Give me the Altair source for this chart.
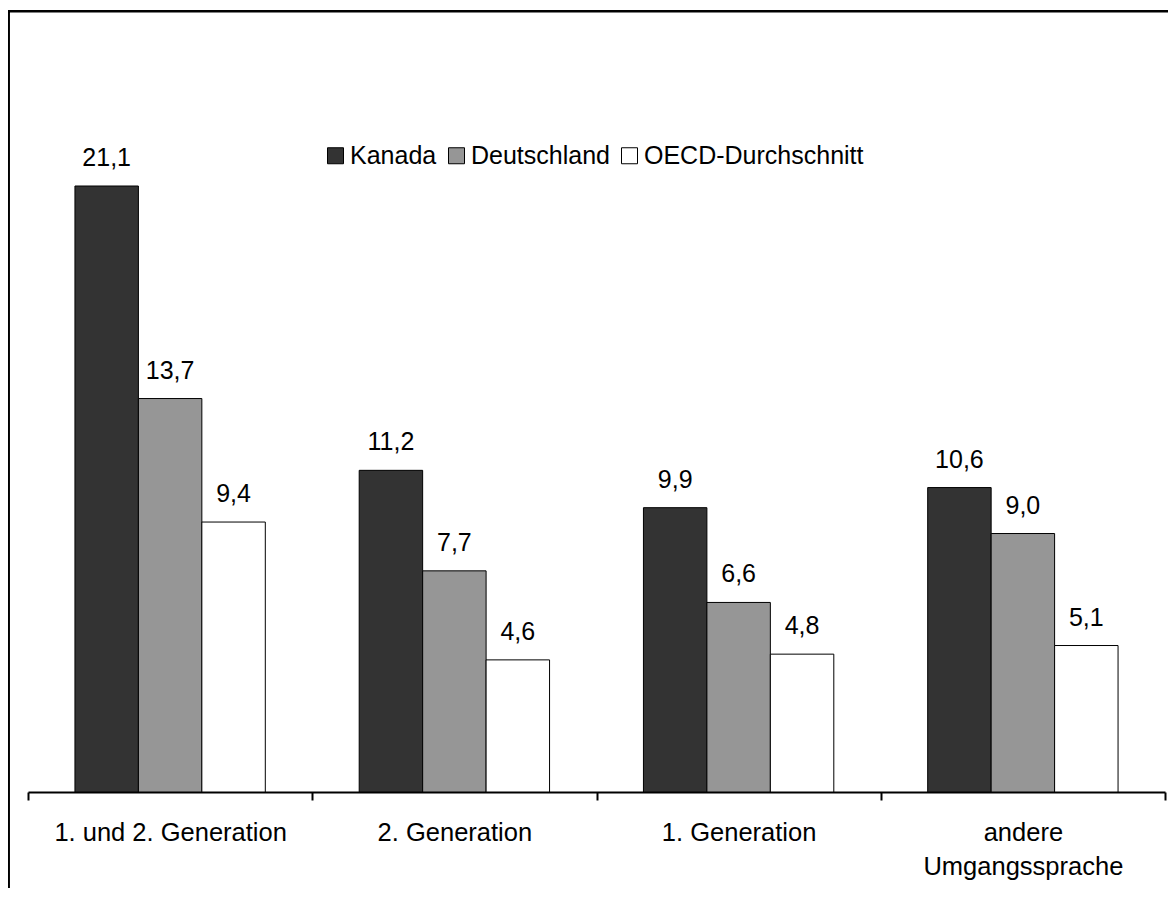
import altair as alt
import pandas as pd

categories = ["1. und 2. Generation", "2. Generation", "1. Generation", "andere|Umgangssprache"]
series = ["Kanada", "Deutschland", "OECD-Durchschnitt"]
kanada = [21.1, 11.2, 9.9, 10.6]
deutschland = [13.7, 7.7, 6.6, 9.0]
oecd = [9.4, 4.6, 4.8, 5.1]
colors = ["#333333", "#969696", "#ffffff"]

rows = []
for i, c in enumerate(categories):
    for s, vals in zip(series, [kanada, deutschland, oecd]):
        rows.append({"Gruppe": c, "Serie": s, "Wert": vals[i]})
df = pd.DataFrame(rows)

FONT = "Liberation Sans"
W, H = 1137, 718

x_enc = alt.X("Gruppe:N", sort=categories, title=None,
              scale=alt.Scale(paddingInner=0, paddingOuter=0),
              axis=alt.Axis(labelAngle=0, labelFontSize=25.5, labelFont=FONT, labelColor="black",
                            labelLimit=400, labelOverlap=False, labelLineHeight=34,
                            labelExpr="split(datum.label, '|')", labelBaseline="top",
                            labelPadding=20, tickBand="extent", tickSize=8, tickWidth=2,
                            tickColor="black", domainColor="black", domainWidth=2,
                            grid=False))
xo_enc = alt.XOffset("Serie:N", sort=series,
                     scale=alt.Scale(paddingOuter=0.74, paddingInner=0))
y_enc = alt.Y("Wert:Q", axis=None, scale=alt.Scale(domain=[0, 25]))

base = alt.Chart(df)

bars = base.mark_bar(stroke="black", strokeWidth=1).encode(
    x=x_enc, xOffset=xo_enc, y=y_enc,
    color=alt.Color("Serie:N", sort=series,
                    scale=alt.Scale(domain=series, range=colors),
                    legend=alt.Legend(title=None, orient="none", legendX=295, legendY=69,
                                      direction="horizontal", symbolType="square",
                                      symbolSize=256, symbolStrokeColor="black",
                                      symbolStrokeWidth=1, labelFontSize=25, labelFont=FONT,
                                      labelColor="black", columnPadding=7, labelOffset=2,
                                      labelLimit=400)),
)

labels = base.transform_calculate(
    txt="replace(format(datum.Wert, '.1f'), '.', ',')"
).mark_text(dy=-20, baseline="alphabetic", fontSize=25, font=FONT, color="black").encode(
    x=x_enc, xOffset=xo_enc, y=y_enc, text="txt:N"
)

frame = alt.Chart(pd.DataFrame({"a": [0]})).mark_rect(
    fill="transparent", stroke="black", strokeWidth=2.5
).encode(
    x=alt.value(-19.3), x2=alt.value(W + 60), y=alt.value(-62.7), y2=alt.value(H + 200)
)

chart = alt.layer(frame, bars, labels).properties(
    width=W, height=H,
    background="white",
    autosize=alt.AutoSizeParams(type="none"),
    padding={"left": 20, "top": 66, "right": 3, "bottom": 96},
).configure_view(stroke=None)

chart.save("out.html", embed_options={"renderer": "svg", "actions": False})
